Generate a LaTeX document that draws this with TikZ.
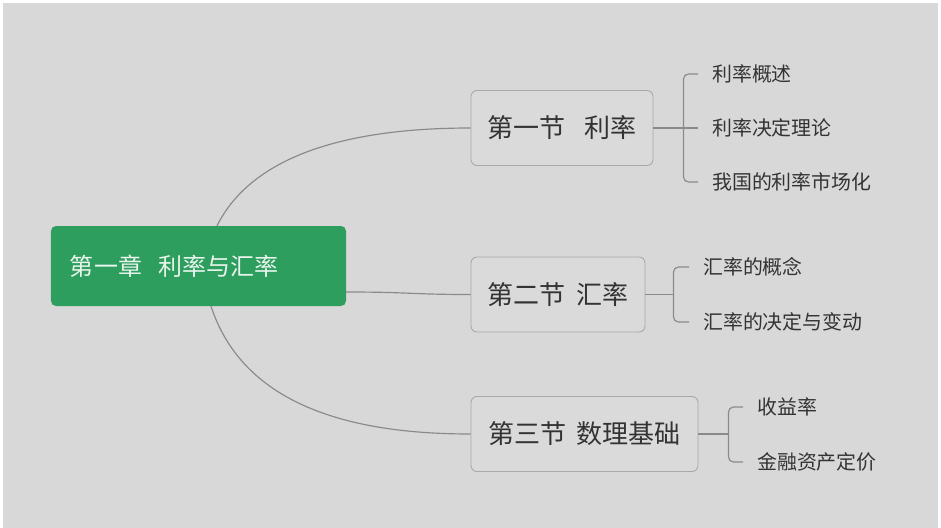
\documentclass[tikz,border=0pt]{standalone}
\usepackage{fontspec}
\usepackage{xcolor}
\usepackage{tikz}
\usetikzlibrary{calc}
\setmainfont{Noto Sans CJK SC}
\definecolor{BG}{HTML}{D8D8D8}
\definecolor{ROOTG}{HTML}{2D9E5E}
\definecolor{ROOTT}{HTML}{E8F4EC}
\definecolor{SECF}{HTML}{DADADA}
\definecolor{SECL}{HTML}{A9A9A9}
\definecolor{LINK}{HTML}{8A8A8A}
\definecolor{TXT}{HTML}{333333}
\tikzset{
  rootbox/.style={fill=ROOTG, rounded corners=0.15cm, text=ROOTT, minimum height=2.4cm,
    text width=7.71cm, align=left, inner xsep=0.57cm, font=\fontsize{20.5}{24}\selectfont},
  secbox/.style={draw=SECL, line width=0.8pt, fill=SECF, rounded corners=0.18cm, text=TXT,
    minimum height=2.25cm, font=\fontsize{22.2}{26}\selectfont},
  leaf/.style={anchor=west, inner sep=0pt, text=TXT, font=\fontsize{17}{20}\selectfont},
  branch/.style={draw=LINK, line width=1pt},
}

\begin{document}
\begin{tikzpicture}[x=0.03cm, y=-0.03cm]%
\useasboundingbox (0,0) rectangle (941,528);%
\fill[BG] (3,3) rectangle (938,528);%
% chapter
\node[rootbox] (root) at (198.5,266) {第一章\hspace{0.7em}利率与汇率};%
% sections
\node[secbox, minimum width=5.46cm] (s1) at (562,128) {第一节\hspace{0.7em}利率};%
\node[secbox, minimum width=5.22cm] (s2) at (558,294.5) {第二节\hspace{0.45em}汇率};%
\node[secbox, minimum width=6.81cm] (s3) at (584.5,434) {第三节\hspace{0.4em}数理基础};%
% topics
\node[leaf] (c11) at (712,74) {利率概述};%
\node[leaf] (c12) at (712,128) {利率决定理论};%
\node[leaf] (c13) at (712,182) {我国的利率市场化};%
\node[leaf] (c21) at (703,267) {汇率的概念};%
\node[leaf] (c22) at (703,322) {汇率的决定与变动};%
\node[leaf] (c31) at (757,407) {收益率};%
\node[leaf] (c32) at (757,462) {金融资产定价};%
\coordinate (b1) at ($(s1.east)+(30,0)$);%
\coordinate (b2) at ($(s2.east)+(28,0)$);%
\coordinate (b3) at ($(s3.east)+(30,0)$);%
% chapter to sections
\draw[branch] ($(root.north)+(18.5,0)$) .. controls (255,150) and (360,128) .. (s1.west);%
\draw[branch] ($(root.east)+(0,26)$) .. controls (410,292) and (410,294.5) .. (s2.west);%
\draw[branch] ($(root.south)+(12.5,0)$) .. controls (245,410) and (360,434) .. (s3.west);%
% sections to topics
\draw[branch] (s1.east) -- ($(c12.west)+(-14,0)$);%
\draw[branch, rounded corners=0.15cm] ($(c11.west)+(-14,0)$) -| (b1) |- ($(c13.west)+(-14,0)$);%
\draw[branch] (s2.east) -- (b2);%
\draw[branch, rounded corners=0.15cm] ($(c21.west)+(-14,0)$) -| (b2) |- ($(c22.west)+(-14,0)$);%
\draw[branch] (s3.east) -- (b3);%
\draw[branch, rounded corners=0.15cm] ($(c31.west)+(-14,0)$) -| (b3) |- ($(c32.west)+(-14,0)$);%
\end{tikzpicture}
\end{document}
